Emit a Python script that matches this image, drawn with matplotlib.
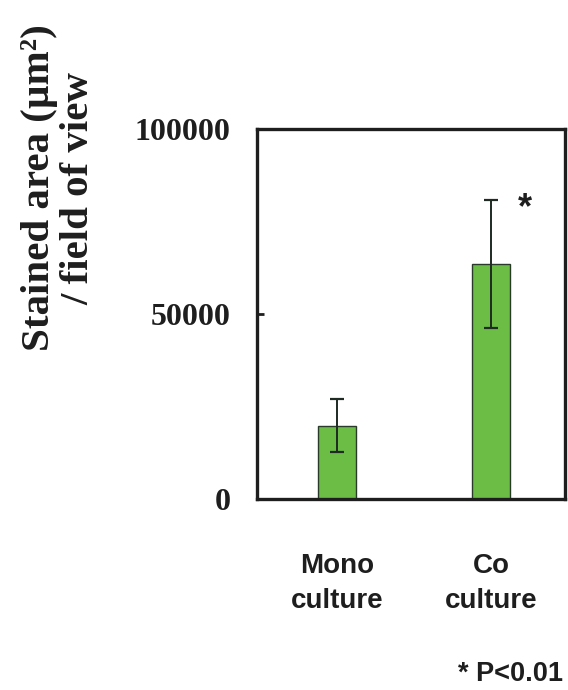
import matplotlib
matplotlib.use('Agg')
import matplotlib.pyplot as plt

groups = ['Mono\nculture', 'Co\nculture']
means = [19800, 63500]
errors = [7200, 17200]
ytick_vals = [0, 50000, 100000]
ytick_labels = ['0', '50000', '100000']

fig = plt.figure(figsize=(5.68, 6.90), dpi=100)
ax = fig.add_axes([0.4525, 0.2768, 0.5422, 0.5362])

x = range(len(groups))
ax.bar(x, means, width=0.25, color='#6cbd45', edgecolor='#2a3a2a', linewidth=1.0, zorder=2)
ax.errorbar(x, means, yerr=errors, fmt='none', ecolor='#1e2a22', elinewidth=1.4,
            capsize=4.7, capthick=1.6, zorder=3)

# significance mark next to the co-culture bar
ax.text(1.22, 78500, '*', fontsize=26, fontweight='bold', family='Liberation Sans',
        ha='center', va='center', color='#1e1e1e')

ax.set_xlim(-0.52, 1.48)
ax.set_ylim(0, 100000)
ax.set_xticks([])
ax.set_yticks(ytick_vals)
ax.set_yticklabels(ytick_labels, family='Liberation Serif', fontweight='bold', fontsize=23,
                   color='#1e1e1e')
ax.tick_params(axis='y', direction='in', length=5, width=2, pad=19, color='#1e1e1e')
for s in ax.spines.values():
    s.set_linewidth(2.4)
    s.set_color('#1e1e1e')

for xi, g in zip(x, groups):
    ax.text(xi, -0.228, g, transform=ax.get_xaxis_transform(), ha='center', va='center',
            family='Liberation Sans', fontweight='bold', fontsize=20, color='#1e1e1e',
            linespacing=1.45)

fig.text(0.104, 0.7275, 'Stained area (µm²)\n/ field of view', rotation=90,
         ha='center', va='center', multialignment='center', family='Liberation Serif',
         fontweight='bold', fontsize=29.5, color='#1e1e1e', linespacing=1.1)

fig.text(0.991, 0.013, '* P<0.01', ha='right', va='baseline', family='Liberation Sans',
         fontweight='bold', fontsize=19.5, color='#1e1e1e')

fig.savefig('out.png', dpi=100)
